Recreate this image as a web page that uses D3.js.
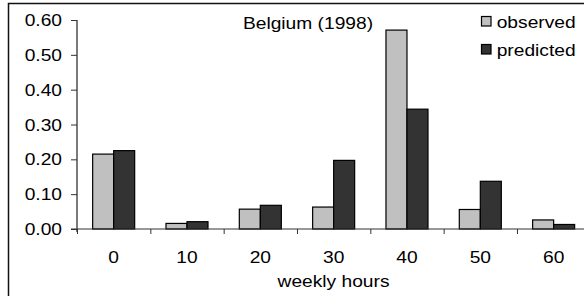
<!DOCTYPE html>
<html>
<head>
<meta charset="utf-8">
<script src="https://cdn.jsdelivr.net/npm/d3@7"></script>
<style>
  body { margin: 0; background: #fff; }
  text { font-family: "Liberation Sans", Arial, sans-serif; fill: #000; }
</style>
</head>
<body>
<div id="chart"></div>
<script>
// chart data
var hours = ["0", "10", "20", "30", "40", "50", "60"];
var observed = [0.215, 0.016, 0.057, 0.063, 0.571, 0.056, 0.026];
var predicted = [0.225, 0.021, 0.068, 0.197, 0.344, 0.137, 0.013];
var seriesNames = ["observed", "predicted"];
var yTicks = [0, 0.1, 0.2, 0.3, 0.4, 0.5, 0.6];

var svgWidth = 584;
var svgHeight = 296;
var stretch = 1.2; // text in the original is a bit wide

var colors = { observed: "#c0c0c0", predicted: "#333333" };

var svg = d3.select("#chart")
  .append("svg")
  .attr("width", svgWidth)
  .attr("height", svgHeight);

// outer frame (only left and top are visible)
svg.append("rect")
  .attr("x", 8.5)
  .attr("y", 3.5)
  .attr("width", 700)
  .attr("height", 400)
  .attr("fill", "none")
  .attr("stroke", "#111")
  .attr("stroke-width", 1.5);

// scales
var x0 = d3.scaleBand()
  .domain(hours)
  .range([77, 590.3])
  .paddingInner(0.427)
  .paddingOuter(0.2135);

var x1 = d3.scaleBand()
  .domain(seriesNames)
  .range([0, x0.bandwidth()]);

var y = d3.scaleLinear()
  .domain([0, 0.6])
  .range([229, 20]);

// rows for grouped bars
var rows = hours.map(function(h, i) {
  return { hour: h, values: [
    { key: "observed", value: observed[i] },
    { key: "predicted", value: predicted[i] }
  ] };
});

// bars
var groups = svg.selectAll(".group")
  .data(rows)
  .enter()
  .append("g")
  .attr("class", "group")
  .attr("transform", d => `translate(${x0(d.hour)},0)`);

groups.selectAll("rect")
  .data(d => d.values)
  .enter()
  .append("rect")
  .attr("x", d => x1(d.key))
  .attr("y", d => y(d.value))
  .attr("width", x1.bandwidth())
  .attr("height", d => y(0) - y(d.value))
  .attr("fill", d => colors[d.key])
  .attr("stroke", "#000")
  .attr("stroke-width", 1.2);

// y axis
var yAxis = svg.append("g")
  .attr("transform", "translate(77,0)")
  .call(d3.axisLeft(y).tickValues(yTicks).tickFormat(d3.format(".2f")).tickSize(6).tickSizeOuter(0));

yAxis.select(".domain").attr("stroke", "#222").attr("stroke-width", 1.2)
  .attr("d", "M0,20V232");
yAxis.selectAll(".tick line").attr("stroke", "#333");
yAxis.selectAll(".tick text")
  .attr("x", -15 / stretch)
  .attr("dy", "0.35em")
  .attr("transform", `scale(${stretch},1)`)
  .style("font-size", "16px")
  .style("font-family", "'Liberation Sans', Arial, sans-serif")
  .attr("fill", "#000");

// x axis: boundary ticks between categories
var xEdges = d3.scaleLinear().domain([0, hours.length]).range(x0.range());
var xAxisTicks = svg.append("g")
  .attr("transform", "translate(0,229)")
  .call(d3.axisBottom(xEdges).ticks(hours.length).tickFormat("").tickSize(5).tickSizeOuter(0));
xAxisTicks.select(".domain").attr("stroke", "#333").attr("stroke-width", 1.2)
  .attr("d", "M71,0H590");
xAxisTicks.selectAll(".tick line").attr("stroke", "#333");

// x labels
var xAxis = svg.append("g")
  .attr("transform", "translate(0,229)")
  .call(d3.axisBottom(x0).tickSize(0));
xAxis.select(".domain").remove();
xAxis.selectAll(".tick text")
  .attr("y", 33.7)
  .attr("dy", 0)
  .attr("transform", `scale(${stretch},1)`)
  .style("font-size", "16px")
  .style("font-family", "'Liberation Sans', Arial, sans-serif")
  .attr("fill", "#000");

// axis title
svg.append("text")
  .attr("transform", `translate(333.5,287.3) scale(${stretch},1)`)
  .attr("text-anchor", "middle")
  .style("font-size", "16px")
  .text("weekly hours");

// chart title
svg.append("text")
  .attr("transform", `translate(308,29.3) scale(${stretch},1)`)
  .attr("text-anchor", "middle")
  .style("font-size", "16px")
  .text("Belgium (1998)");

// legend
var legend = svg.selectAll(".legend")
  .data(seriesNames)
  .enter()
  .append("g")
  .attr("class", "legend")
  .attr("transform", (d, i) => `translate(481,${16 + i * 28})`);

legend.append("rect")
  .attr("x", 0.5)
  .attr("y", 0.5)
  .attr("width", 9.5)
  .attr("height", 9.5)
  .attr("fill", d => colors[d])
  .attr("stroke", "#000")
  .attr("stroke-width", 1.2);

legend.append("text")
  .attr("transform", `translate(15.7,11.7) scale(${stretch},1)`)
  .style("font-size", "16px")
  .text(d => d);
</script>
</body>
</html>
